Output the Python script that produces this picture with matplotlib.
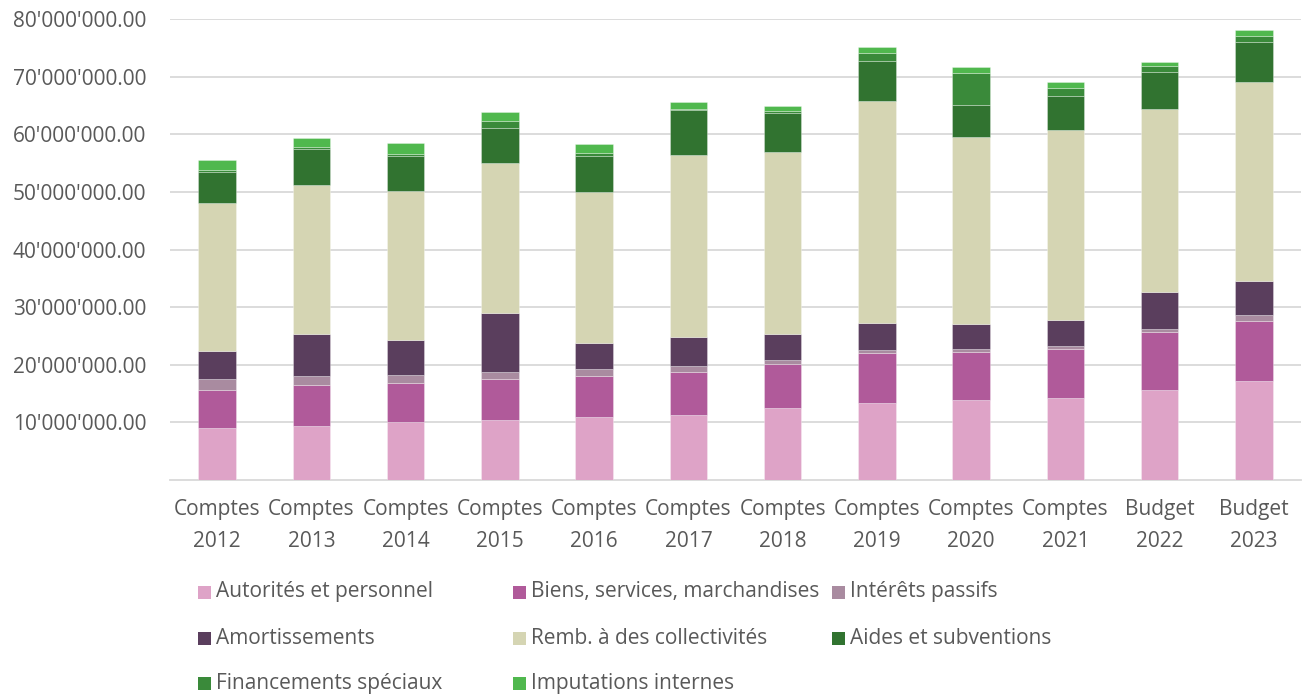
import matplotlib
matplotlib.use("Agg")
import matplotlib.pyplot as plt
from matplotlib.patches import Rectangle
from matplotlib.ticker import FuncFormatter
import numpy as np

categories = ["Comptes\n2012", "Comptes\n2013", "Comptes\n2014", "Comptes\n2015",
              "Comptes\n2016", "Comptes\n2017", "Comptes\n2018", "Comptes\n2019",
              "Comptes\n2020", "Comptes\n2021", "Budget\n2022", "Budget\n2023"]

series_names = ["Autorités et personnel", "Biens, services, marchandises", "Intérêts passifs",
                "Amortissements", "Remb. à des collectivités", "Aides et subventions",
                "Financements spéciaux", "Imputations internes"]

# values in CHF
autorites = [9.0e6, 9.3e6, 10.0e6, 10.4e6, 10.9e6, 11.3e6, 12.5e6, 13.4e6, 13.8e6, 14.3e6, 15.6e6, 17.2e6]
biens = [6.7e6, 7.1e6, 6.8e6, 7.2e6, 7.2e6, 7.5e6, 7.7e6, 8.6e6, 8.45e6, 8.35e6, 10.05e6, 10.4e6]
interets = [1.85e6, 1.6e6, 1.4e6, 1.2e6, 1.2e6, 0.95e6, 0.6e6, 0.6e6, 0.4e6, 0.6e6, 0.6e6, 1.0e6]
amortissements = [4.85e6, 7.4e6, 6.1e6, 10.2e6, 4.4e6, 5.1e6, 4.55e6, 4.6e6, 4.4e6, 4.5e6, 6.4e6, 6.0e6]
remb = [25.7e6, 25.75e6, 25.8e6, 26.0e6, 26.2e6, 31.5e6, 31.6e6, 38.6e6, 32.4e6, 33.0e6, 31.7e6, 34.4e6]
aides = [5.3e6, 6.3e6, 6.2e6, 6.1e6, 6.4e6, 7.9e6, 6.8e6, 6.9e6, 5.7e6, 5.85e6, 6.5e6, 6.95e6]
financements = [0.4e6, 0.3e6, 0.3e6, 1.27e6, 0.45e6, 0.2e6, 0.2e6, 1.4e6, 5.4e6, 1.5e6, 0.95e6, 1.05e6]
imputations = [1.75e6, 1.6e6, 1.9e6, 1.55e6, 1.6e6, 1.1e6, 1.0e6, 1.1e6, 1.15e6, 0.95e6, 0.8e6, 1.05e6]

yticks = [10e6, 20e6, 30e6, 40e6, 50e6, 60e6, 70e6, 80e6]

colors = ["#DEA3C7", "#B05A9A", "#A98BA0", "#5A3E5D", "#D5D5B3", "#317330", "#3A8A3A", "#50B84E"]

FONT = ["Open Sans", "DejaVu Sans"]
TXT = "#595959"
FS = 15.0
plt.rcParams["font.family"] = FONT

fig = plt.figure(figsize=(13.06, 6.95), dpi=100)
ax = fig.add_axes([170 / 1306, 1 - 480 / 695, (1301 - 170) / 1306, (480 - 19) / 695])

data = [autorites, biens, interets, amortissements, remb, aides, financements, imputations]
x = np.arange(len(categories))
bottom = np.zeros(len(categories))
for vals, col, name in zip(data, colors, series_names):
    v = np.array(vals)
    ax.bar(x, v, width=0.40, bottom=bottom, color=col, edgecolor=(1, 1, 1, 0.35),
           linewidth=0.6, label=name, zorder=3)
    bottom += v

ax.set_xlim(-0.5, len(categories) - 0.5)
ax.set_ylim(0, 80e6)
ax.set_yticks(yticks)
ax.yaxis.set_major_formatter(FuncFormatter(lambda v, p: f"{v:,.2f}".replace(",", "'")))
ax.grid(axis="y", color="#D9D9D9", linewidth=1.3, zorder=0)
for s in ["top", "right", "left"]:
    ax.spines[s].set_visible(False)
ax.spines["bottom"].set_color("#D9D9D9")
ax.spines["bottom"].set_linewidth(1.3)
ax.tick_params(axis="y", length=0, labelsize=FS, labelcolor=TXT, pad=17)
ax.tick_params(axis="x", length=0, labelsize=FS, labelcolor=TXT, pad=14)
ax.set_xticks(x)
ax.set_xticklabels(categories, linespacing=1.65)

# legend (3 columns, row-major order)
col_x = [198, 513, 832]
row_y = [592, 638, 683]
sq = 13
for i, (name, col) in enumerate(zip(series_names, colors)):
    r, c = divmod(i, 3)
    px, py = col_x[c], row_y[r]
    fig.patches.append(Rectangle((px / 1306, 1 - (py + sq / 2) / 695), sq / 1306, sq / 695,
                                 transform=fig.transFigure, facecolor=col, edgecolor="none"))
    fig.text((px + sq + 5) / 1306, 1 - py / 695, name, fontsize=FS, color=TXT,
             va="center", ha="left")

fig.savefig("out.png", dpi=100)
